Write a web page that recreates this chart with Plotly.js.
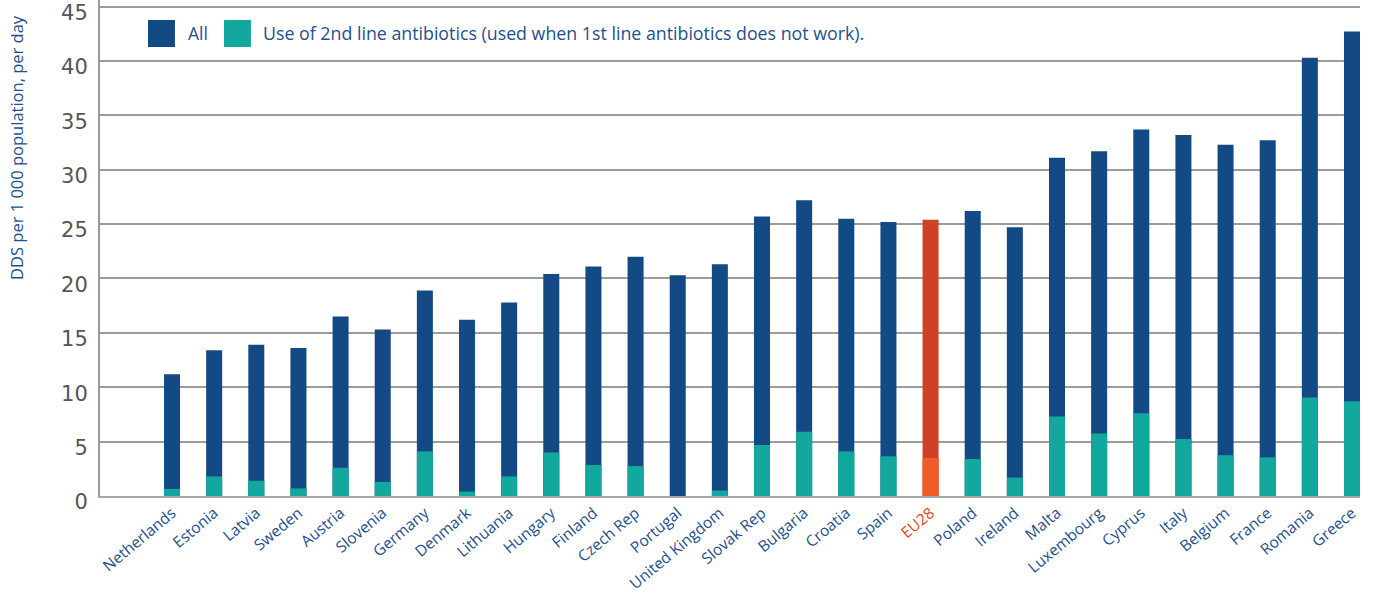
<!DOCTYPE html>
<html>
<head>
<meta charset="utf-8">
<script src="https://cdn.plot.ly/plotly-3.0.1.min.js"></script>
<style>html,body{margin:0;padding:0;background:#fff;}#chart{width:1375px;height:593px;}</style>
</head>
<body>
<div id="chart"></div>
<script>
var countries = ['Netherlands','Estonia','Latvia','Sweden','Austria','Slovenia','Germany','Denmark','Lithuania','Hungary','Finland','Czech Rep','Portugal','United Kingdom','Slovak Rep','Bulgaria','Croatia','Spain','EU28','Poland','Ireland','Malta','Luxembourg','Cyprus','Italy','Belgium','France','Romania','Greece'];
var allUse = [11.2, 13.4, 13.9, 13.6, 16.5, 15.3, 18.9, 16.2, 17.8, 20.4, 21.1, 22.0, 20.3, 21.3, 25.7, 27.2, 25.5, 25.2, 25.4, 26.2, 24.7, 31.1, 31.7, 33.7, 33.2, 32.3, 32.7, 40.3, 42.7];
var secondLine = [0.65, 1.8, 1.4, 0.7, 2.6, 1.3, 4.1, 0.4, 1.8, 4.0, 2.85, 2.75, 0, 0.5, 4.7, 5.9, 4.1, 3.65, 3.5, 3.4, 1.7, 7.3, 5.75, 7.6, 5.25, 3.75, 3.55, 9.05, 8.7];
var yTicks = [0, 5, 10, 15, 20, 25, 30, 35, 40, 45];
var seriesNames = ['All', 'Use of 2nd line antibiotics (used when 1st line antibiotics does not work).'];
var yTitle = 'DDS per 1 000 population, per day';

var BLUE = '#134a84', TEAL = '#12a89d', EU_DARK = '#cf4127', EU_LIGHT = '#f15a29', LABEL = '#1f4f8e', EU_LABEL = '#e0452b';
var FONT = 'Open Sans, DejaVu Sans, sans-serif';

var idx = countries.map(function (c, i) { return i; });
var tickText = countries.map(function (c) {
  return c === 'EU28' ? '<span style="color:' + EU_LABEL + '">' + c + '</span>' : c;
});

var traces = [
  {
    type: 'bar', x: idx, y: allUse, name: seriesNames[0], width: 0.38,
    marker: { color: countries.map(function (c) { return c === 'EU28' ? EU_DARK : BLUE; }) },
    hoverinfo: 'skip'
  },
  {
    type: 'bar', x: idx, y: secondLine, name: seriesNames[1], width: 0.38,
    marker: { color: countries.map(function (c) { return c === 'EU28' ? EU_LIGHT : TEAL; }) },
    hoverinfo: 'skip'
  }
];

var layout = {
  width: 1375, height: 593,
  margin: { l: 100, r: 15, t: 0, b: 97 },
  paper_bgcolor: '#fff', plot_bgcolor: '#fff',
  barmode: 'overlay',
  showlegend: false,
  font: { family: FONT },
  xaxis: {
    range: [-1.709, 28.19],
    tickmode: 'array', tickvals: idx, ticktext: tickText,
    tickangle: -40,
    tickfont: { family: FONT, size: 15.5, color: LABEL },
    showgrid: false, zeroline: false,
    showline: true, linecolor: '#a6a6a6', linewidth: 2,
    ticks: ''
  },
  yaxis: {
    range: [0, 45.6],
    tickmode: 'array', tickvals: yTicks,
    tickfont: { family: 'DejaVu Sans, sans-serif', size: 21, color: '#555' },
    ticklabeloverflow: 'allow',
    ticklabelshift: 6,
    showgrid: true, gridcolor: '#9c9c9c', gridwidth: 2,
    zeroline: false,
    showline: true, linecolor: '#999', linewidth: 2,
    ticks: 'outside', ticklen: 6, tickcolor: 'rgba(0,0,0,0)'
  },
  shapes: [
    { type: 'rect', xref: 'paper', yref: 'paper', x0: 0.0381, x1: 0.0595, y0: 0.9052, y1: 0.9597, fillcolor: BLUE, line: { width: 0 } },
    { type: 'rect', xref: 'paper', yref: 'paper', x0: 0.0984, x1: 0.1198, y0: 0.9052, y1: 0.9597, fillcolor: TEAL, line: { width: 0 } }
  ],
  annotations: [
    { xref: 'paper', yref: 'paper', x: 0.0683, y: 0.9325, xanchor: 'left', yanchor: 'middle', text: seriesNames[0], showarrow: false, font: { family: FONT, size: 17.5, color: LABEL } },
    { xref: 'paper', yref: 'paper', x: 0.1278, y: 0.9325, xanchor: 'left', yanchor: 'middle', text: seriesNames[1], showarrow: false, font: { family: FONT, size: 17.8, color: LABEL } },
    { xref: 'paper', yref: 'paper', x: -0.0667, y: 0.7036, xanchor: 'center', yanchor: 'middle', textangle: -90, text: yTitle, showarrow: false, font: { family: FONT, size: 16.5, color: LABEL } }
  ]
};

Plotly.newPlot('chart', traces, layout, { displayModeBar: false, staticPlot: true });
</script>
</body>
</html>
